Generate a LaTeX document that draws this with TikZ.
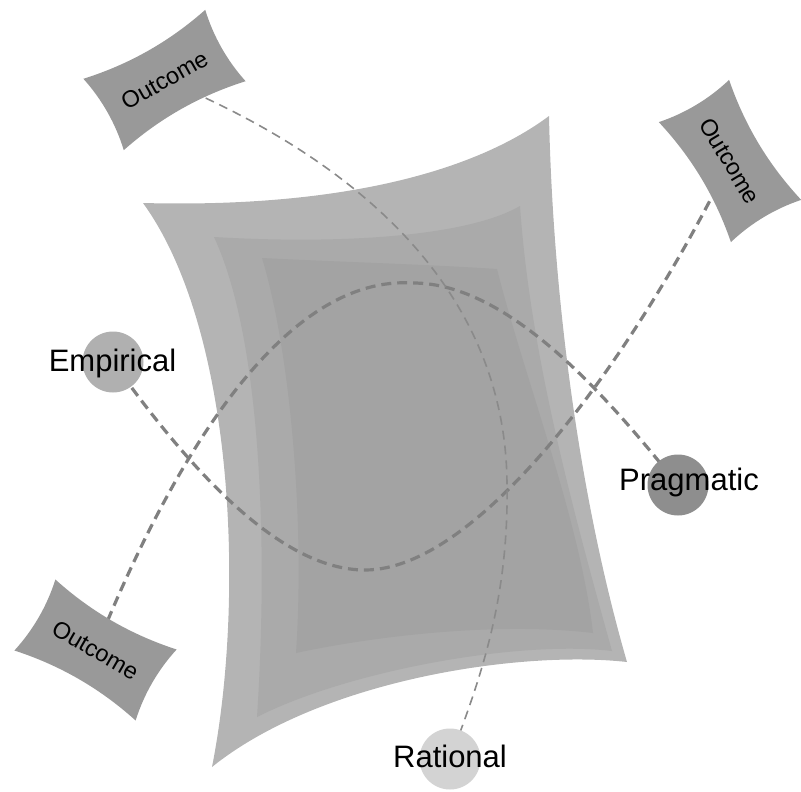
\documentclass[tikz,border=0pt]{standalone}
\usepackage{fontspec}
\setmainfont{Liberation Sans}
\definecolor{layA}{HTML}{B4B4B4}
\definecolor{layB}{HTML}{AAAAAA}
\definecolor{layC}{HTML}{A3A3A3}
\definecolor{outc}{HTML}{999999}
\definecolor{cEmp}{HTML}{B0B0B0}
\definecolor{cPrag}{HTML}{8E8E8E}
\definecolor{cRat}{HTML}{D3D3D3}
\definecolor{lnThick}{HTML}{808080}
\definecolor{lnThin}{HTML}{8A8A8A}
\pgfdeclarelayer{back}
\pgfdeclarelayer{mid}
\pgfsetlayers{back,mid,main}
\newcommand{\outbox}[3]{%
  \begin{scope}[shift={#2}, rotate=#3]
    \fill[outc] (-70,-41) .. controls (-23,-31) and (23,-31) .. (70,-41)
      .. controls (64,-14) and (64,14) .. (70,41)
      .. controls (23,31) and (-23,31) .. (-70,41)
      .. controls (-64,14) and (-64,-14) .. (-70,-41) -- cycle;
    \node[outtext, rotate=#3] (#1) at (0,0) {Outcome};
  \end{scope}}
\begin{document}
\begin{tikzpicture}[x=1pt,y=-1pt,
  outtext/.style={font=\fontsize{23.5}{28}\selectfont, inner sep=0pt},
  lab/.style={font=\fontsize{31}{37}\selectfont, inner sep=0pt, anchor=base},
  dot/.style={circle, minimum size=61pt, inner sep=0pt},
  thickdash/.style={draw=lnThick, line width=3.2pt, dash pattern=on 10pt off 6pt},
  thindash/.style={draw=lnThin, line width=1.6pt, dash pattern=on 9pt off 6pt}]
\path[use as bounding box] (0,0) rectangle (801,792);

% main layered shape
\begin{pgfonlayer}{back}
\fill[layA] (143,203) .. controls (330,208) and (470,175) .. (549,116)
  .. controls (553,300) and (580,500) .. (627,662)
  .. controls (520,650) and (320,680) .. (212,767)
  .. controls (245,600) and (235,330) .. (143,203) -- cycle;
\fill[layB] (214,237) .. controls (350,245) and (470,235) .. (520,206)
  .. controls (530,350) and (570,500) .. (612,651)
  .. controls (520,640) and (350,670) .. (257,717)
  .. controls (268,550) and (262,340) .. (214,237) -- cycle;
\fill[layC] (262,258) .. controls (340,262) and (420,264) .. (497,269)
  .. controls (525,380) and (580,520) .. (593,633)
  .. controls (500,622) and (380,635) .. (296,653)
  .. controls (305,520) and (290,350) .. (262,258) -- cycle;
\end{pgfonlayer}

% circles
\node[dot, fill=cEmp] (emp) at (113,362) {};
\node[dot, fill=cPrag] (prag) at (678,485) {};
\node[dot, fill=cRat] (rat) at (450,759) {};

% outcome boxes
\outbox{o1}{(164.5,80)}{29.5}
\outbox{o2}{(730,161)}{-59}
\outbox{o3}{(95.5,650)}{-30}

% labels
\node[lab] (empt) at (112.5,371) {Empirical};
\node[lab] (pragt) at (689,490) {Pragmatic};
\node[lab] (ratt) at (450,767) {Rational};

% connectors
\begin{pgfonlayer}{mid}
\draw[thickdash] (emp.center) .. controls (190,470) and (280,570) .. (365,570)
  .. controls (480,570) and (635,355) .. (o2.center);
\draw[thickdash] (o3.center) .. controls (180,440) and (290,275) .. (413,283)
  .. controls (510,283) and (610,400) .. (prag.center);
\draw[thindash] (o1.center) .. controls (310,140) and (505,260) .. (507,483)
  .. controls (509,600) and (480,680) .. (rat.center);
\end{pgfonlayer}
\end{tikzpicture}
\end{document}
